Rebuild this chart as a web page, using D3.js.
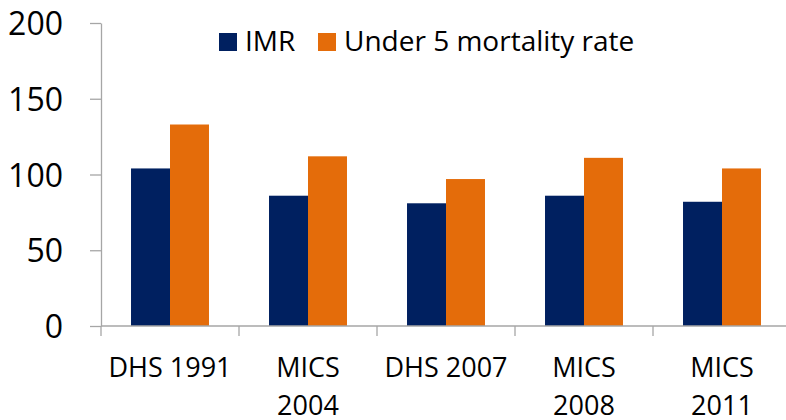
<!DOCTYPE html>
<html>
<head>
<meta charset="utf-8">
<script src="https://cdn.jsdelivr.net/npm/d3@7"></script>
<style>
  body { margin: 0; background: #fff; }
  text { font-family: "Open Sans", sans-serif; fill: #000; }
</style>
</head>
<body>
<div id="chart"></div>
<script>
// survey rounds, one label per group (\n = line break)
var categories = ["DHS 1991", "MICS 2004", "DHS 2007", "MICS 2008", "MICS 2011"];
var tickLabels = ["DHS 1991", "MICS\n2004", "DHS 2007", "MICS\n2008", "MICS\n2011"];
var seriesNames = ["IMR", "Under 5 mortality rate"];
var imr = [104, 86, 81, 86, 82];
var under5 = [133, 112, 97, 111, 104];
var yTicks = [0, 50, 100, 150, 200];

var colors = ["#002060", "#E46C0A"];
var axisColor = "#a6a6a6";

var width = 786, height = 420;

var svg = d3.select("#chart")
  .append("svg")
    .attr("width", width)
    .attr("height", height);

// rows for the grouped bars
var data = categories.map(function(c, i) {
  return { cat: c, label: tickLabels[i], values: [imr[i], under5[i]] };
});

var x0 = d3.scaleBand()
    .domain(categories)
    .range([101, 791])
    .paddingInner(0)
    .paddingOuter(0);

var x1 = d3.scaleBand()
    .domain(seriesNames)
    .range([0, x0.bandwidth()])
    .paddingInner(0)
    .paddingOuter(0.77);

var y = d3.scaleLinear()
    .domain([0, 200])
    .range([326, 23]);

// bars
var groups = svg.selectAll(".group")
    .data(data)
    .enter().append("g")
    .attr("class", "group")
    .attr("transform", function(d) { return "translate(" + x0(d.cat) + ",0)"; });

groups.selectAll("rect")
    .data(function(d) { return d.values.map(function(v, k) { return { key: seriesNames[k], value: v, k: k }; }); })
    .enter().append("rect")
    .attr("x", function(d) { return x1(d.key); })
    .attr("y", function(d) { return y(d.value); })
    .attr("width", x1.bandwidth())
    .attr("height", function(d) { return y(0) - y(d.value); })
    .style("fill", function(d) { return colors[d.k]; });

// y axis
var yAxis = svg.append("g")
    .attr("transform", "translate(101,0)")
    .call(d3.axisLeft(y).tickValues(yTicks).tickSizeInner(11).tickSizeOuter(0).tickPadding(27));

yAxis.select(".domain").attr("stroke", axisColor).attr("stroke-width", 1.3);
yAxis.selectAll(".tick line").attr("stroke", axisColor).attr("stroke-width", 1.3);
yAxis.selectAll(".tick text")
    .style("font-size", "32px")
    .attr("dy", "0.36em");

// x axis: line + ticks at group boundaries
var xAxis = svg.append("g").attr("class", "x-axis");

xAxis.append("line")
    .attr("x1", x0.range()[0]).attr("x2", x0.range()[1])
    .attr("y1", y(0)).attr("y2", y(0))
    .attr("stroke", axisColor).attr("stroke-width", 1.3);

var bounds = categories.map(function(c) { return x0(c); }).concat([x0.range()[1]]);
xAxis.selectAll(".xtick")
    .data(bounds)
    .enter().append("line")
    .attr("class", "xtick")
    .attr("x1", function(d) { return d; }).attr("x2", function(d) { return d; })
    .attr("y1", y(0)).attr("y2", y(0) + 10)
    .attr("stroke", axisColor).attr("stroke-width", 1.3);

var xLabels = xAxis.selectAll(".xlabel")
    .data(data)
    .enter().append("text")
    .attr("class", "xlabel")
    .attr("text-anchor", "middle")
    .attr("x", function(d) { return x0(d.cat) + x0.bandwidth() / 2; })
    .attr("y", 377)
    .style("font-size", "27px");

xLabels.selectAll("tspan")
    .data(function(d) { return d.label.split("\n").map(function(t) { return { t: t, x: x0(d.cat) + x0.bandwidth() / 2 }; }); })
    .enter().append("tspan")
    .attr("x", function(d) { return d.x; })
    .attr("dy", function(d, i) { return i === 0 ? 0 : 38; })
    .text(function(d) { return d.t; });

// legend
var legendX = [219, 318];
var legend = svg.selectAll(".legend")
    .data(seriesNames)
    .enter().append("g")
    .attr("class", "legend")
    .attr("transform", function(d, i) { return "translate(" + legendX[i] + ",33)"; });

legend.append("rect")
    .attr("width", 18).attr("height", 18)
    .style("fill", function(d, i) { return colors[i]; });

legend.append("text")
    .attr("x", 26)
    .attr("y", 18)
    .style("font-size", "28px")
    .text(function(d) { return d; });
</script>
</body>
</html>
